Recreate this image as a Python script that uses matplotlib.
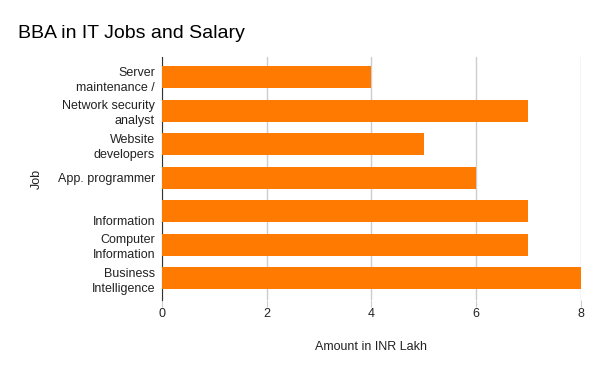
import matplotlib.pyplot as plt

plt.rcParams["font.family"] = ["Liberation Sans", "DejaVu Sans"]

jobs = ["Server\nmaintenance /", "Network security\nanalyst", "Website\ndevelopers",
        "App. programmer", " \nInformation", "Computer\nInformation", "Business\nIntelligence"]
salary = [4, 7, 5, 6, 7, 7, 8]

fig = plt.figure(figsize=(6, 3.71), dpi=100)
ax = fig.add_axes([0.27, 0.191, 0.698, 0.655])

y = range(len(jobs))
ax.barh(y, salary, height=0.66, color="#ff7a00", zorder=3)
ax.set_ylim(len(jobs) - 0.35, -0.6)
ax.set_xlim(0, 8)
ax.set_yticks(list(y))
ax.set_yticklabels(jobs, fontsize=9, color="#222222", linespacing=1.35)
ax.set_xticks([0, 2, 4, 6, 8])
ax.tick_params(axis="y", length=0, pad=5)
ax.tick_params(axis="x", length=5, color="#cccccc", labelsize=9, labelcolor="#222222", pad=1)
ax.grid(axis="x", color="#cccccc", linewidth=1, zorder=0)
for s in ["top", "right", "bottom"]:
    ax.spines[s].set_visible(False)
ax.spines["left"].set_color("#333333")
ax.set_xlabel("Amount in INR Lakh", fontsize=9, color="#222222", labelpad=15)
ax.set_ylabel("Job", fontsize=9, color="#222222")
ax.yaxis.set_label_coords(-0.285, 0.5)
fig.text(0.03, 0.91, "BBA in IT Jobs and Salary", fontsize=14, color="#000000", va="center")

fig.savefig("out.png", dpi=100)
